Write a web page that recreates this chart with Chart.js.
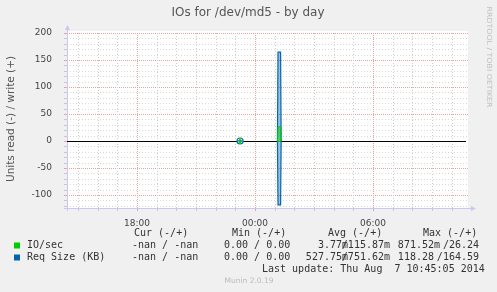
<!DOCTYPE html>
<html>
<head>
<meta charset="utf-8">
<script src="https://cdn.jsdelivr.net/npm/chart.js@4.4.0/dist/chart.umd.min.js"></script>
<style>
  html, body { margin: 0; padding: 0; background: #f0f0f0; }
  canvas { display: block; }
</style>
</head>
<body>
<canvas id="c" width="497" height="292"></canvas>
<script>
// munin "IOs for /dev/md5 - by day" graph
const title = 'IOs for /dev/md5 - by day';
const yAxisLabel = 'Units read (-) / write (+)';
const watermark = 'RRDTOOL / TOBI OETIKER';
const footer = 'Munin 2.0.19';

// hours relative to midnight
const xTickHours = [-6, 0, 6];
const xTickLabels = ['18:00', '00:00', '06:00'];
const yTickValues = [200, 150, 100, 50, 0, -50, -100];

const sampleHours = [-0.76, -0.6, 1.14, 1.17, 1.30, 1.33, 1.45];
const ioWrite   = [0, null, 0, 26.2, 26.2, 0, null];
const ioRead    = [0, null, 0, -0.87, -0.87, 0, null];
const sizeWrite = [0, null, 0, 164.6, 164.6, 0, null];
const sizeRead  = [0, null, 0, -118.3, -118.3, 0, null];

const legendHeaders = ['Cur (-/+)', 'Min (-/+)', 'Avg (-/+)', 'Max (-/+)'];
const legendNames = ['IO/sec', 'Req Size (KB)'];
const legendCur = ['-nan / -nan', '-nan / -nan'];
const legendMin = ['0.00 / 0.00', '0.00 / 0.00'];
const legendAvg = [['3.77m', '/115.87m'], ['527.75m', '/751.62m']];
const legendMax = [['871.52m', '/26.24'], ['118.28 ', '/164.59']];
const lastUpdate = 'Last update: Thu Aug  7 10:45:05 2014';

const GREEN = '#00cc00';
const BLUE = '#0066b3';

function pts(arr) {
  return sampleHours.map((h, i) => ({ x: h, y: arr[i] }));
}

// only lone samples get a dot, like the small circle before midnight
function loneRadius(r) {
  return ctx => {
    const d = ctx.dataset.data;
    const i = ctx.dataIndex;
    if (!d[i] || d[i].y == null) return 0;
    const prev = d[i - 1], next = d[i + 1];
    const gapBefore = !prev || prev.y == null;
    const gapAfter = !next || next.y == null;
    return gapBefore && gapAfter ? r : 0;
  };
}

function dotted(c, x1, y1, x2, y2, color, dash) {
  c.save();
  c.strokeStyle = color;
  c.lineWidth = 1;
  c.setLineDash(dash);
  c.beginPath();
  c.moveTo(x1, y1);
  c.lineTo(x2, y2);
  c.stroke();
  c.restore();
}

const muninLook = {
  id: 'muninLook',
  beforeDraw(chart) {
    const c = chart.ctx;
    const a = chart.chartArea;
    c.save();
    c.fillStyle = '#f0f0f0';
    c.fillRect(0, 0, chart.width, chart.height);
    c.fillStyle = '#ffffff';
    c.fillRect(a.left, a.top - 2, a.right - a.left, a.bottom - a.top + 2);
    c.restore();
  },
  beforeDatasetsDraw(chart) {
    const c = chart.ctx;
    const a = chart.chartArea;
    const xs = chart.scales.x, ys = chart.scales.y;

    // horizontal grid: every 10 units, red every 50
    for (let v = -120; v <= 200; v += 10) {
      const y = Math.round(ys.getPixelForValue(v)) + 0.5;
      if (v === 0) continue;
      if (v % 50 === 0) dotted(c, a.left, y, a.right, y, '#f0a0a0', [1, 1]);
      else dotted(c, a.left, y, a.right, y, '#d8d8d8', [1, 2]);
    }
    // vertical grid: hourly, red every 6 hours
    for (let h = Math.ceil(xs.min); h <= xs.max; h++) {
      const x = Math.round(xs.getPixelForValue(h)) + 0.5;
      const major = h % 6 === 0;
      if (major) dotted(c, x, a.top, x, a.bottom, '#f0a0a0', [1, 1]);
      else dotted(c, x, a.top, x, a.bottom, '#cccccc', [1, 2]);
      c.save();
      c.strokeStyle = major ? '#f0a0a0' : '#c8c8c8';
      c.beginPath();
      c.moveTo(x, a.bottom);
      c.lineTo(x, a.bottom + 3);
      c.stroke();
      c.restore();
    }
    // left axis ticks
    for (let v = -120; v <= 200; v += 10) {
      const y = Math.round(ys.getPixelForValue(v)) + 0.5;
      c.save();
      c.strokeStyle = v % 50 === 0 ? '#f0a0a0' : '#c8c8c8';
      c.beginPath();
      c.moveTo(a.left - 3, y);
      c.lineTo(a.left, y);
      c.stroke();
      c.restore();
    }

    // axes with arrows
    c.save();
    c.strokeStyle = '#c8c8f0';
    c.fillStyle = '#c8c8f0';
    c.lineWidth = 1;
    c.beginPath();
    c.moveTo(a.left + 0.5, a.bottom + 3);
    c.lineTo(a.left + 0.5, a.top - 4);
    c.moveTo(a.left - 3, a.bottom + 0.5);
    c.lineTo(a.right + 4, a.bottom + 0.5);
    c.stroke();
    c.beginPath();
    c.moveTo(a.left - 2, a.top - 3);
    c.lineTo(a.left + 3, a.top - 3);
    c.lineTo(a.left + 0.5, a.top - 8);
    c.closePath();
    c.fill();
    c.beginPath();
    c.moveTo(a.right + 3, a.bottom - 2);
    c.lineTo(a.right + 3, a.bottom + 3);
    c.lineTo(a.right + 8, a.bottom + 0.5);
    c.closePath();
    c.fill();
    c.restore();

    // zero rule
    const y0 = Math.round(ys.getPixelForValue(0)) + 0.5;
    c.save();
    c.strokeStyle = '#000000';
    c.lineWidth = 1;
    c.beginPath();
    c.moveTo(a.left, y0);
    c.lineTo(a.right - 2, y0);
    c.stroke();
    c.restore();
  },
  afterDraw(chart) {
    const c = chart.ctx;
    c.save();
    // title
    c.fillStyle = '#555555';
    c.font = '12px "DejaVu Sans"';
    c.textAlign = 'center';
    c.textBaseline = 'middle';
    c.fillText(title, 248, 13);

    // y axis label
    c.save();
    c.translate(11, 119);
    c.rotate(-Math.PI / 2);
    c.font = '10.5px "DejaVu Sans"';
    c.fillText(yAxisLabel, 0, 0);
    c.restore();

    // rrdtool watermark on the right
    c.save();
    c.translate(489, 57);
    c.rotate(Math.PI / 2);
    c.fillStyle = '#c0c0c0';
    c.font = '7px "DejaVu Sans"';
    const ww = c.measureText(watermark).width;
    c.scale(101 / ww, 1);
    c.fillText(watermark, 0, 0);
    c.restore();

    // legend table
    c.font = '10px "DejaVu Sans Mono"';
    c.fillStyle = '#333333';
    c.textAlign = 'left';
    const headX = [134, 232, 328, 423];
    legendHeaders.forEach((t, i) => c.fillText(t, headX[i], 233.5));
    const rowY = [245.5, 257.5];
    const swatch = [GREEN, BLUE];
    legendNames.forEach((name, r) => {
      const y = rowY[r];
      c.fillStyle = swatch[r];
      c.fillRect(14, y - 3, 6, 6);
      c.fillStyle = '#333333';
      c.textAlign = 'left';
      c.fillText(name, 27, y);
      c.fillText(legendCur[r], 132, y);
      c.fillText(legendMin[r], 224, y);
      c.textAlign = 'right';
      c.fillText(legendAvg[r][0], 348, y);
      c.fillText(legendAvg[r][1], 390, y);
      c.fillText(legendMax[r][0], 440, y);
      c.fillText(legendMax[r][1], 479, y);
    });
    c.textAlign = 'left';
    c.fillText(lastUpdate, 262, 269.5);

    // footer
    c.fillStyle = '#bbbbbb';
    c.font = '7.5px "DejaVu Sans"';
    c.textAlign = 'center';
    c.fillText(footer, 249, 281);
    c.restore();
  }
};

const tickFont = { family: 'DejaVu Sans', size: 9 };

new Chart(document.getElementById('c'), {
  type: 'line',
  data: {
    datasets: [
      { label: 'IO/sec write', data: pts(ioWrite), borderColor: GREEN, backgroundColor: 'rgba(0,204,0,0.45)',
        fill: 'origin', borderWidth: 1, pointRadius: loneRadius(1.5), pointBackgroundColor: GREEN, pointBorderColor: GREEN },
      { label: 'IO/sec read', data: pts(ioRead), borderColor: GREEN, backgroundColor: 'rgba(0,204,0,0.45)',
        fill: 'origin', borderWidth: 1, pointRadius: 0 },
      { label: 'Req Size write', data: pts(sizeWrite), borderColor: BLUE, backgroundColor: 'rgba(0,102,179,0.4)',
        fill: 'origin', borderWidth: 1.2, pointRadius: loneRadius(3), pointBackgroundColor: '#ffffff', pointBorderColor: BLUE, pointBorderWidth: 1.2 },
      { label: 'Req Size read', data: pts(sizeRead), borderColor: BLUE, backgroundColor: 'rgba(0,102,179,0.4)',
        fill: 'origin', borderWidth: 1.2, pointRadius: 0 }
    ]
  },
  options: {
    responsive: false,
    animation: false,
    layout: { padding: { top: 33, right: 29, left: 0, bottom: 0 } },
    plugins: { legend: { display: false }, tooltip: { enabled: false } },
    scales: {
      x: {
        type: 'linear',
        min: -9.56,
        max: 10.83,
        grid: { display: false },
        border: { display: false },
        afterBuildTicks: s => { s.ticks = xTickHours.map(v => ({ value: v })); },
        afterFit: s => { s.height = 84; },
        ticks: {
          autoSkip: false,
          maxRotation: 0,
          padding: 2,
          color: '#444444',
          font: tickFont,
          callback: v => xTickLabels[xTickHours.indexOf(v)]
        }
      },
      y: {
        min: -124,
        max: 200,
        grid: { display: false },
        border: { display: false },
        afterBuildTicks: s => { s.ticks = yTickValues.map(v => ({ value: v })); },
        afterFit: s => { s.width = 67; },
        ticks: { padding: 7, color: '#444444', font: tickFont }
      }
    }
  },
  plugins: [muninLook]
});
</script>
</body>
</html>
